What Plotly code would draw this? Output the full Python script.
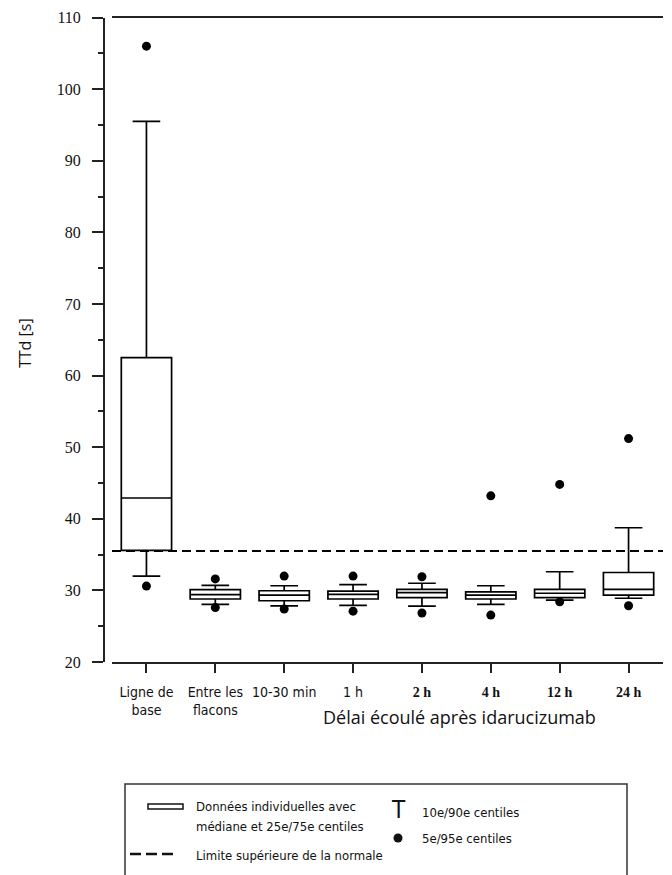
import plotly.graph_objects as go

# Time points after idarucizumab
categories = ["Ligne de base", "Entre les flacons", "10-30 min", "1 h", "2 h", "4 h", "12 h", "24 h"]
tick_labels = [
    "Ligne de<br>base",
    "Entre les<br>flacons",
    "10-30 min",
    "1 h",
    "<span style='font-family:Liberation Serif'><b>2 h</b></span>",
    "<span style='font-family:Liberation Serif'><b>4 h</b></span>",
    "<span style='font-family:Liberation Serif'><b>12 h</b></span>",
    "<span style='font-family:Liberation Serif'><b>24 h</b></span>",
]

# TTd [s] percentiles per time point
p5 = [30.6, 27.6, 27.4, 27.1, 26.85, 26.55, 28.4, 27.85]
p10 = [32.0, 28.05, 27.85, 27.9, 27.8, 28.05, 28.65, 28.9]
p25 = [35.6, 28.8, 28.55, 28.8, 29.0, 28.8, 29.0, 29.35]
p50 = [42.9, 29.4, 29.35, 29.45, 29.7, 29.35, 29.6, 30.15]
p75 = [62.5, 30.1, 29.95, 29.9, 30.15, 29.8, 30.15, 32.5]
p90 = [95.5, 30.7, 30.65, 30.8, 31.0, 30.65, 32.6, 38.75]
p95 = [106.0, 31.6, 32.0, 32.0, 31.9, 43.2, 44.8, 51.2]

# Upper limit of normal
uln = 35.5

W, H = 672, 875


def px(x):
    return x / W


def py(y):
    return 1 - y / H


xpos = list(range(len(categories)))

fig = go.Figure()

# Boxes: median and 25th/75th, whiskers at 10th/90th
fig.add_trace(go.Box(
    x=xpos, q1=p25, median=p50, q3=p75,
    lowerfence=p10, upperfence=p90,
    width=0.73, whiskerwidth=0.55,
    line=dict(color="black", width=1.7),
    fillcolor="white",
    boxpoints=False, hoverinfo="skip", showlegend=False,
))

# Upper limit of normal (dashed)
fig.add_trace(go.Scatter(
    x=[-0.5, 7.5], y=[uln, uln], mode="lines",
    line=dict(color="black", width=2, dash="9px,5px"),
    hoverinfo="skip", showlegend=False,
))

# 5th/95th percentile dots
fig.add_trace(go.Scatter(
    x=xpos + xpos, y=p5 + p95, mode="markers",
    marker=dict(color="black", size=9),
    hoverinfo="skip", showlegend=False, cliponaxis=False,
))

serif = "Liberation Serif, Times New Roman, serif"
narrow = "Liberation Sans Narrow, DejaVu Sans Condensed, Liberation Sans, sans-serif"
sans = "Open Sans, sans-serif"

fig.update_layout(
    width=W, height=H,
    margin=dict(l=0, r=0, t=0, b=0, autoexpand=False),
    paper_bgcolor="white", plot_bgcolor="white",
    showlegend=False,
    xaxis=dict(
        domain=[px(112), px(663)], range=[-0.5, 7.5], automargin=False,
        tickmode="array", tickvals=xpos, ticktext=tick_labels,
        ticks="outside", ticklen=9, tickwidth=1.5, tickcolor="#222",
        showline=True, linecolor="#222", linewidth=2, mirror=True,
        showgrid=False, zeroline=False,
        tickfont=dict(family=narrow, size=14, color="#111"),
        ticklabelstandoff=7,
    ),
    yaxis=dict(
        domain=[py(662), py(17.5)], range=[20, 110], automargin=False,
        anchor="free", position=px(104),
        tickmode="linear", tick0=20, dtick=10,
        ticks="outside", ticklen=11, tickwidth=2, tickcolor="#222",
        minor=dict(ticks="outside", ticklen=5, tickwidth=2, dtick=5, tick0=20, tickcolor="#222"),
        showline=True, linecolor="#222", linewidth=2,
        showgrid=False, zeroline=False,
        tickfont=dict(family=serif, size=16, color="#111"),
        ticklabelstandoff=8,
    ),
)

annotations = [
    dict(text="TTd [s]", x=px(25), y=py(343), textangle=-90,
         font=dict(family=sans, size=16, color="#111")),
    dict(text="Délai écoulé après idarucizumab", x=px(459), y=py(717),
         font=dict(family=sans, size=18, color="#111")),
    # legend texts
    dict(text="Données individuelles avec", x=px(194), y=py(806), xanchor="left",
         font=dict(family=narrow, size=13, color="#111")),
    dict(text="médiane et 25e/75e centiles", x=px(194), y=py(826), xanchor="left",
         font=dict(family=narrow, size=13, color="#111")),
    dict(text="Limite supérieure de la normale", x=px(194), y=py(855), xanchor="left",
         font=dict(family=narrow, size=13, color="#111")),
    dict(text="T", x=px(398), y=py(810),
         font=dict(family=narrow, size=24, color="#111")),
    dict(text="10e/90e centiles", x=px(420), y=py(812), xanchor="left",
         font=dict(family=narrow, size=13, color="#111")),
    dict(text="5e/95e centiles", x=px(420), y=py(838), xanchor="left",
         font=dict(family=narrow, size=13, color="#111")),
]
for a in annotations:
    a.update(xref="paper", yref="paper", showarrow=False, yanchor="middle",
             xanchor=a.get("xanchor", "center"))
fig.update_layout(annotations=annotations)

shapes = [
    # legend frame
    dict(type="rect", x0=px(125), x1=px(627), y0=py(884), y1=py(784),
         line=dict(color="#333", width=1.5)),
    # box symbol
    dict(type="rect", x0=px(148), x1=px(183), y0=py(809), y1=py(804),
         line=dict(color="#111", width=1.5)),
    # dashed symbol
    dict(type="line", x0=px(130), x1=px(175), y0=py(854), y1=py(854),
         line=dict(color="#111", width=2.5, dash="11px,5px")),
    # dot symbol
    dict(type="circle", x0=px(393.5), x1=px(402.5), y0=py(842.5), y1=py(833.5),
         fillcolor="#111", line=dict(color="#111", width=0)),
]
for s in shapes:
    s.update(xref="paper", yref="paper")
fig.update_layout(shapes=shapes)

fig.write_html("out.html")
